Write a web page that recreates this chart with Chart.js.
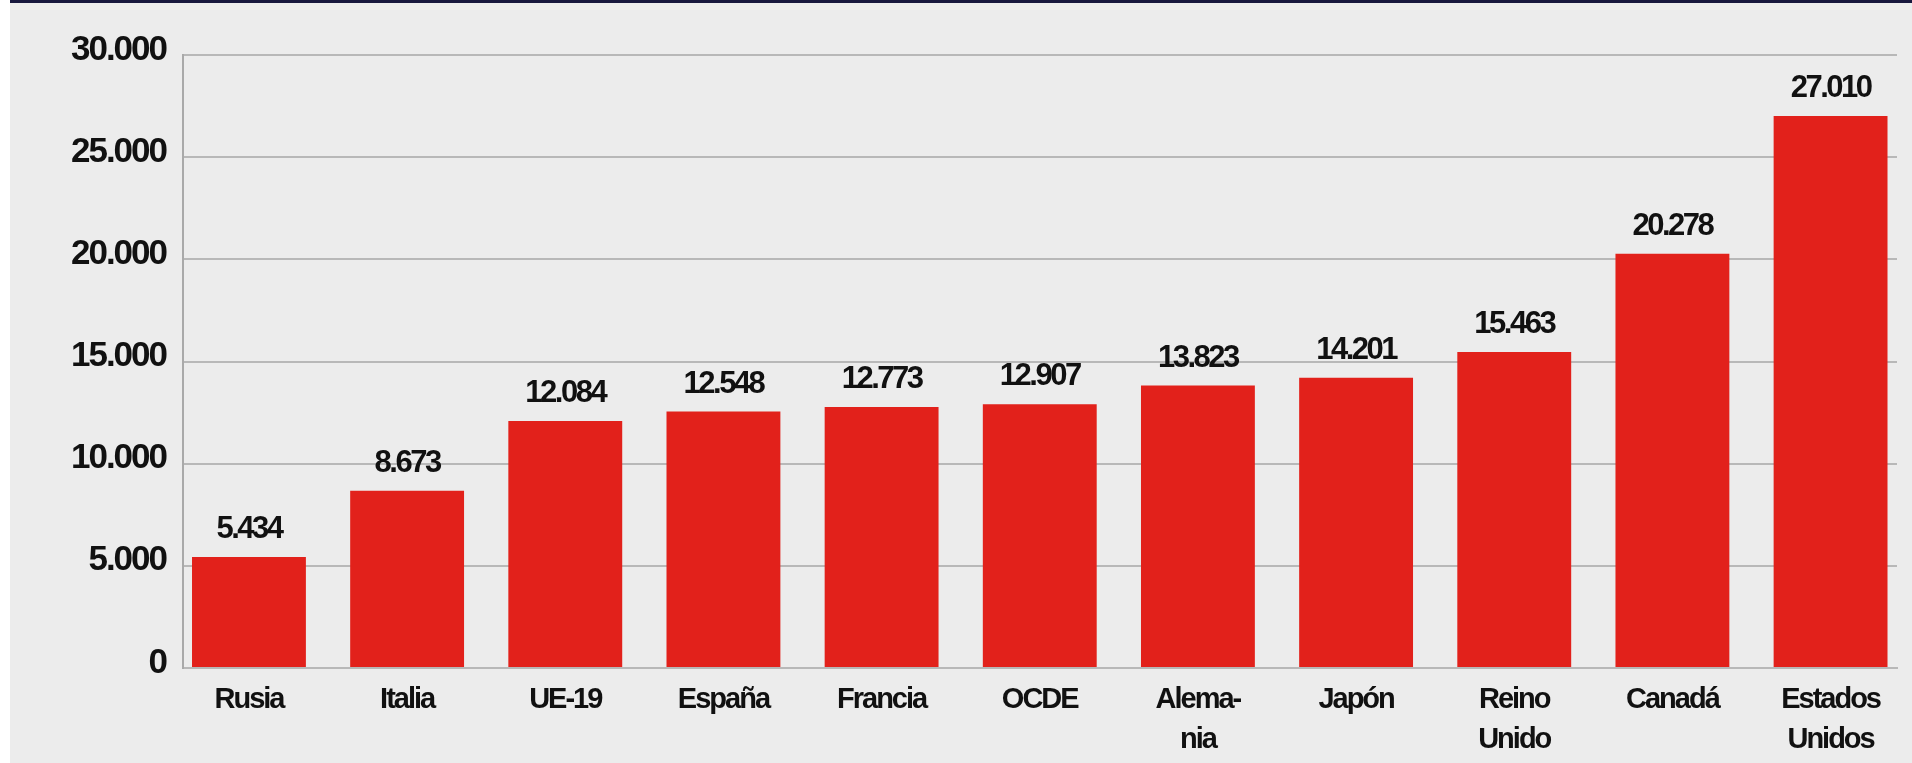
<!DOCTYPE html>
<html>
<head>
<meta charset="utf-8">
<script src="https://cdn.jsdelivr.net/npm/chart.js@4/dist/chart.umd.min.js"></script>
<style>
  html, body { margin: 0; padding: 0; background: #fff; }
  #panel {
    position: absolute; left: 10px; top: 0; width: 1902px; height: 763px;
    background: #ececec; border-top: 3px solid #17173d; box-sizing: border-box;
  }
  #chart { position: absolute; left: 0; top: 0; }
</style>
</head>
<body>
<div id="panel"></div>
<canvas id="chart" width="1912" height="763"></canvas>
<script>
const countries = ["Rusia", "Italia", "UE-19", "España", "Francia", "OCDE", ["Alema-", "nia"], "Japón", ["Reino", "Unido"], "Canadá", ["Estados", "Unidos"]];
const values = [5434, 8673, 12084, 12548, 12773, 12907, 13823, 14201, 15463, 20278, 27010];
const yTicks = [0, 5000, 10000, 15000, 20000, 25000, 30000];

const FONT = "'Liberation Sans', Arial, sans-serif";
const barRed = "#e2211b";
const gridGrey = "#b8b8b8";

function formatThousands(n) {
  return String(n).replace(/\B(?=(\d{3})+(?!\d))/g, ".");
}

// the original uses a condensed face, so squeeze the letters a bit
const tightText = {
  id: "tightText",
  beforeDraw(chart) {
    chart.ctx.letterSpacing = "-2px";
  }
};

// numbers above each bar
const valueLabels = {
  id: "valueLabels",
  afterDatasetsDraw(chart) {
    const ctx = chart.ctx;
    const meta = chart.getDatasetMeta(0);
    ctx.save();
    ctx.letterSpacing = "-2.5px";
    ctx.font = "bold 31px " + FONT;
    ctx.fillStyle = "#111";
    ctx.textAlign = "center";
    ctx.textBaseline = "alphabetic";
    meta.data.forEach((bar, i) => {
      ctx.fillText(formatThousands(values[i]), bar.x, bar.y - 19);
    });
    ctx.restore();
  }
};

new Chart(document.getElementById("chart"), {
  type: "bar",
  data: {
    datasets: [{
      data: values.map((v, i) => ({ x: i, y: v })),
      backgroundColor: barRed,
      borderWidth: 0,
      barPercentage: 0.72,
      categoryPercentage: 1
    }]
  },
  options: {
    responsive: false,
    animation: false,
    layout: { padding: { top: 55, right: 15, bottom: 0, left: 0 } },
    plugins: { legend: { display: false }, tooltip: { enabled: false } },
    scales: {
      x: {
        type: "linear",
        offset: false,
        min: -0.417,
        max: 10.42,
        afterFit: (scale) => { scale.height = 95; },
        grid: { display: false, drawTicks: false },
        border: { display: true, color: gridGrey, width: 2 },
        ticks: {
          stepSize: 1,
          includeBounds: false,
          autoSkip: false,
          maxRotation: 0,
          padding: 12,
          color: "#111",
          font: { family: FONT, size: 29, weight: "bold", lineHeight: 40 / 29 },
          callback: (value) => countries[value]
        }
      },
      y: {
        min: 0,
        max: 30000,
        afterFit: (scale) => { scale.width = 183; },
        afterBuildTicks: (scale) => { scale.ticks = yTicks.map((v) => ({ value: v })); },
        grid: { color: gridGrey, lineWidth: 2, drawTicks: false },
        border: { display: true, color: "#a9a9a9", width: 2 },
        ticks: {
          padding: 17,
          labelOffset: -5,
          color: "#111",
          font: { family: FONT, size: 35, weight: "bold" },
          callback: (value) => formatThousands(value)
        }
      }
    }
  },
  plugins: [tightText, valueLabels]
});
</script>
</body>
</html>
